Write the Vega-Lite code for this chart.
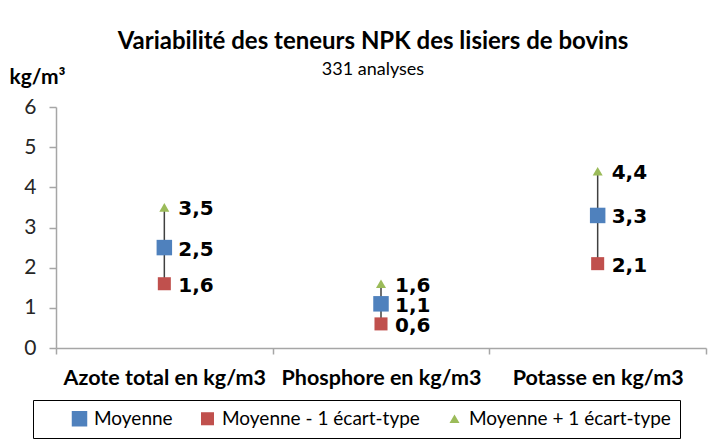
{
  "$schema": "https://vega.github.io/schema/vega-lite/v6.json",
  "autosize": "none",
  "width": 650,
  "height": 241,
  "padding": {"left": 56, "top": 107, "right": 8, "bottom": 91},
  "background": "white",
  "title": {
    "text": "Variabilité des teneurs NPK des lisiers de bovins",
    "subtitle": "331 analyses",
    "anchor": "middle",
    "frame": "group",
    "font": "Lato",
    "fontSize": 24,
    "fontWeight": "bold",
    "color": "#000000",
    "subtitleFont": "Lato",
    "subtitleFontSize": 18,
    "subtitleColor": "#000000",
    "subtitlePadding": 7,
    "dx": -8,
    "offset": -13
  },
  "data": {
    "values": [
      {"category": "Azote total en kg/m3", "series": "Moyenne", "value": 2.5},
      {"category": "Azote total en kg/m3", "series": "Moyenne - 1 écart-type", "value": 1.6},
      {"category": "Azote total en kg/m3", "series": "Moyenne + 1 écart-type", "value": 3.5},
      {"category": "Phosphore en kg/m3", "series": "Moyenne", "value": 1.1},
      {"category": "Phosphore en kg/m3", "series": "Moyenne - 1 écart-type", "value": 0.6},
      {"category": "Phosphore en kg/m3", "series": "Moyenne + 1 écart-type", "value": 1.6},
      {"category": "Potasse en kg/m3", "series": "Moyenne", "value": 3.3},
      {"category": "Potasse en kg/m3", "series": "Moyenne - 1 écart-type", "value": 2.1},
      {"category": "Potasse en kg/m3", "series": "Moyenne + 1 écart-type", "value": 4.4}
    ]
  },
  "encoding": {
    "x": {
      "field": "category",
      "type": "nominal",
      "sort": ["Azote total en kg/m3", "Phosphore en kg/m3", "Potasse en kg/m3"],
      "scale": {"paddingInner": 0, "paddingOuter": 0},
      "axis": {
        "title": null,
        "labelAngle": 0,
        "tickBand": "extent",
        "labelFont": "Lato",
        "labelFontSize": 21.5,
        "labelFontWeight": "bold",
        "labelColor": "#000000",
        "labelPadding": 13,
        "labelLimit": 300,
        "domainColor": "#a6a6a6",
        "domainWidth": 1.5,
        "tickColor": "#a6a6a6",
        "tickSize": 6,
        "tickWidth": 1.5
      }
    },
    "y": {
      "type": "quantitative",
      "scale": {"domain": [0, 6], "nice": false},
      "axis": {
        "title": "kg/m³",
        "titleAngle": 0,
        "titleAlign": "left",
        "titleBaseline": "bottom",
        "titleX": -47,
        "titleY": -20,
        "titleFont": "Lato",
        "titleFontSize": 21,
        "titleFontWeight": "bold",
        "titleColor": "#000000",
        "values": [0, 1, 2, 3, 4, 5, 6],
        "grid": false,
        "labelFont": "Lato",
        "labelFontSize": 21,
        "labelColor": "#262626",
        "labelPadding": 13,
        "domainColor": "#a6a6a6",
        "domainWidth": 1.5,
        "tickColor": "#a6a6a6",
        "tickSize": 7,
        "tickWidth": 1.5
      }
    }
  },
  "layer": [
    {
      "mark": {"type": "rule", "color": "#404040", "strokeWidth": 1.5},
      "encoding": {
        "y": {"aggregate": "min", "field": "value", "type": "quantitative"},
        "y2": {"aggregate": "max", "field": "value"}
      }
    },
    {
      "mark": {"type": "point", "filled": true, "opacity": 1},
      "encoding": {
        "y": {"field": "value", "type": "quantitative"},
        "color": {
          "field": "series",
          "type": "nominal",
          "scale": {
            "domain": ["Moyenne", "Moyenne - 1 écart-type", "Moyenne + 1 écart-type"],
            "range": ["#4f81bd", "#c0504d", "#9bbb59"]
          },
          "legend": {
            "title": " ",
            "titleOrient": "left",
            "titlePadding": 28,
            "titleFontSize": 10,
            "orient": "none",
            "direction": "horizontal",
            "legendX": -23,
            "legendY": 293,
            "strokeColor": "#000000",
            "padding": 9,
            "columnPadding": 25,
            "labelFont": "Lato",
            "labelFontSize": 19,
            "labelColor": "#000000",
            "labelOffset": 5,
            "labelExpr": "datum.label + '\u00a0\u00a0\u00a0'",
            "symbolSize": 120,
            "labelLimit": 300
          }
        },
        "shape": {
          "field": "series",
          "type": "nominal",
          "scale": {
            "domain": ["Moyenne", "Moyenne - 1 écart-type", "Moyenne + 1 écart-type"],
            "range": ["square", "square", "triangle-up"]
          }
        },
        "size": {
          "field": "series",
          "type": "nominal",
          "scale": {
            "domain": ["Moyenne", "Moyenne - 1 écart-type", "Moyenne + 1 écart-type"],
            "range": [240, 100, 110]
          },
          "legend": null
        }
      }
    },
    {
      "mark": {"type": "text", "align": "left", "baseline": "middle", "dx": 14, "dy": 2, "font": "DejaVu Sans", "fontSize": 20, "fontWeight": "bold", "color": "#000000"},
      "encoding": {
        "y": {"field": "value", "type": "quantitative"},
        "text": {"field": "value", "type": "quantitative", "format": ".1f"}
      }
    }
  ],
  "config": {
    "view": {"stroke": null},
    "locale": {"number": {"decimal": ",", "thousands": " ", "grouping": [3], "currency": ["", " €"]}}
  }
}
